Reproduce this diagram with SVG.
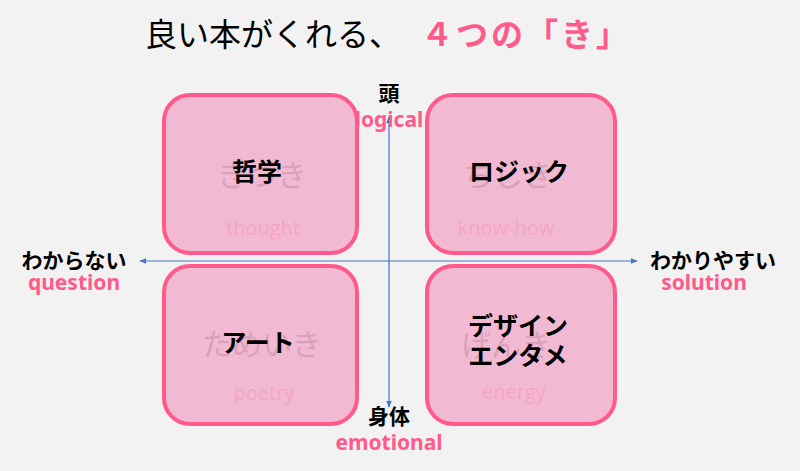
<svg xmlns="http://www.w3.org/2000/svg" width="800" height="471" viewBox="0 0 800 471">
<defs>
<style>
text{font-family:"Noto Sans CJK JP","Noto Sans",sans-serif}
.box{fill:#F2B9D3;stroke:#FF5A8A;stroke-width:4}
.lbl{font-size:25px;font-weight:bold;fill:#000;text-anchor:middle}
.ghost{font-size:30px;fill:#D9A2BA;text-anchor:middle}
.en{font-size:20px;fill:#F5A5C5;text-anchor:middle;font-family:"Open Sans","Noto Sans",sans-serif}
.ax{font-size:21px;font-weight:bold;fill:#000;text-anchor:middle}
.axe{font-size:21px;font-weight:bold;fill:#FF5A8A;text-anchor:middle;font-family:"Noto Sans",sans-serif}
.axis{stroke:#4472C4;stroke-width:1.2;fill:none}
</style>
<marker id="ah" viewBox="0 0 10 10" refX="9" refY="5" markerWidth="7" markerHeight="7" orient="auto-start-reverse" markerUnits="userSpaceOnUse">
<path d="M0,1 L10,5 L0,9 Z" fill="#4472C4"/>
</marker>
</defs>
<rect width="800" height="471" fill="#F2F2F2"/>
<g id="title">
<text x="145" y="46" font-size="32" fill="#000">良い本がくれる、</text>
<text x="421" y="46" font-size="32" font-weight="bold" fill="#FF5A8A" letter-spacing="3">４つの「き」</text>
</g>
<g id="node-tl">
<rect class="box" x="164" y="95" width="193" height="158" rx="26"/>
<text class="ghost" x="262" y="186">きづき</text>
<text class="lbl" x="257" y="181">哲学</text>
<text class="en" x="263" y="235">thought</text>
</g>
<g id="node-tr">
<rect class="box" x="427" y="95" width="188" height="158" rx="26"/>
<text class="ghost" x="508" y="186">ちしき</text>
<text class="lbl" x="519" y="181">ロジック</text>
<text class="en" x="506" y="235">know-how</text>
</g>
<g id="node-bl">
<rect class="box" x="164" y="266" width="193" height="158" rx="26"/>
<text class="ghost" x="262" y="355">ためいき</text>
<text class="lbl" x="258" y="352">アート</text>
<text class="en" x="264" y="400">poetry</text>
</g>
<g id="node-br">
<rect class="box" x="427" y="266" width="188" height="158" rx="26"/>
<text class="ghost" x="506" y="356">げんき</text>
<text class="lbl" x="518" y="335">デザイン</text>
<text class="lbl" x="518" y="365">エンタメ</text>
<text class="en" x="514" y="399">energy</text>
</g>
<g id="connectors">
<line class="axis" x1="140" y1="261" x2="637" y2="261" marker-start="url(#ah)" marker-end="url(#ah)"/>
<line class="axis" x1="389" y1="117" x2="389" y2="407" marker-start="url(#ah)" marker-end="url(#ah)"/>
</g>
<g id="label-top">
<text class="ax" x="389" y="101">頭</text>
<text class="axe" x="389" y="127">logical</text>
</g>
<g id="label-bottom">
<text class="ax" x="389" y="424">身体</text>
<text class="axe" x="389" y="450">emotional</text>
</g>
<g id="label-left">
<text class="ax" x="74" y="268">わからない</text>
<text class="axe" x="74" y="290">question</text>
</g>
<g id="label-right">
<text class="ax" x="713" y="268">わかりやすい</text>
<text class="axe" x="704" y="290">solution</text>
</g>
</svg>
